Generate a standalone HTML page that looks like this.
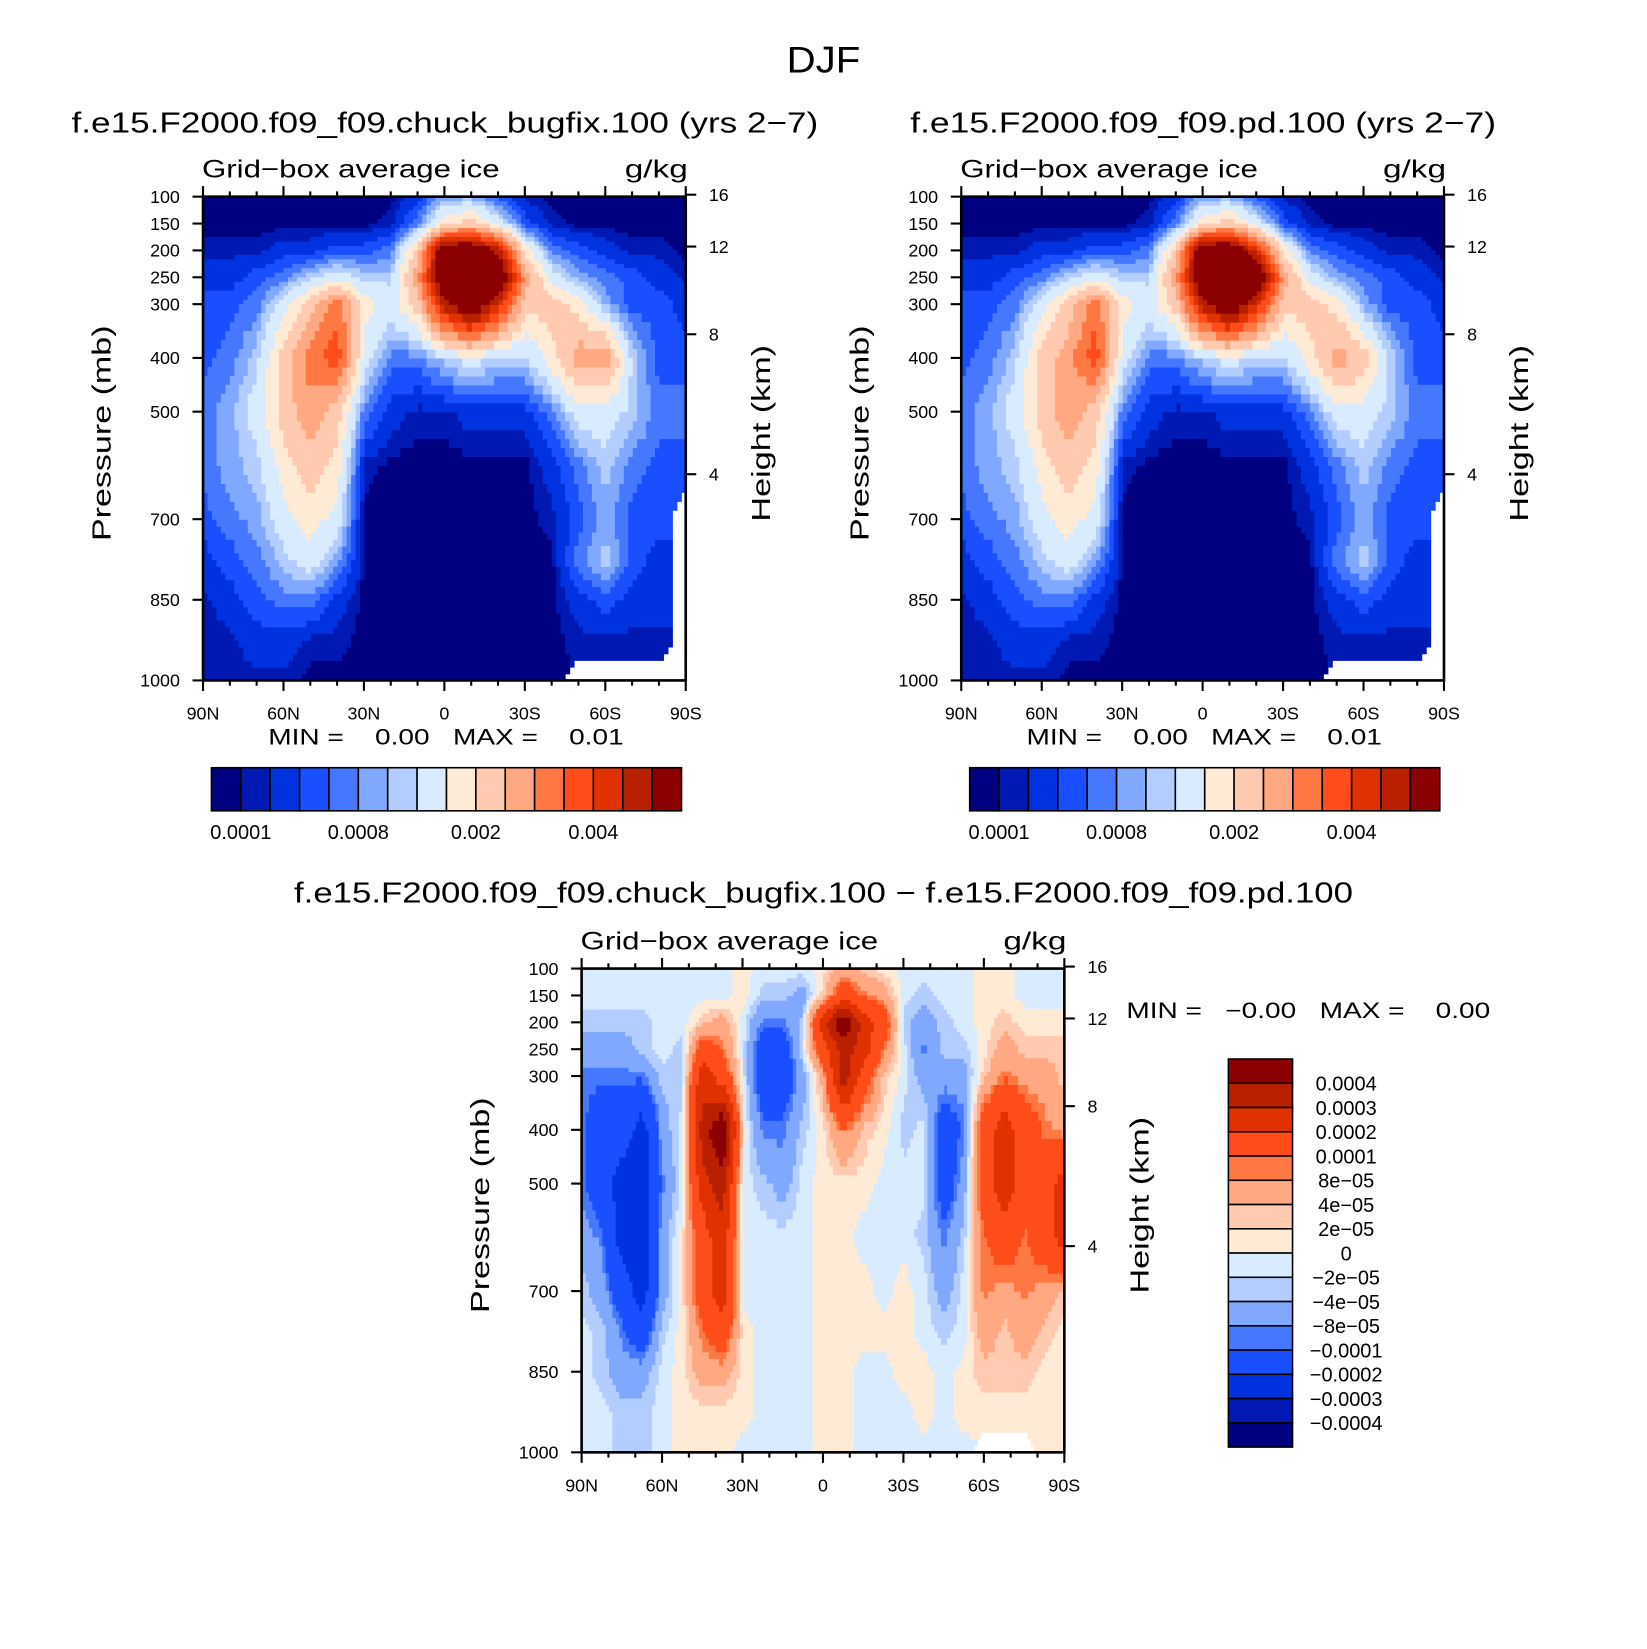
<!DOCTYPE html>
<html><head><meta charset="utf-8"><style>
html,body{margin:0;padding:0;background:#fff}
svg{display:block}
text{font-family:"Liberation Sans",sans-serif;fill:#000;white-space:pre}
</style></head><body>
<svg id="fig" width="1647" height="1649" viewBox="0 0 1566 1568" xmlns="http://www.w3.org/2000/svg">
<text x="783" y="69" font-size="35" text-anchor="middle" textLength="70" lengthAdjust="spacingAndGlyphs">DJF</text>
</svg>
<script>
// ---- data (values in units of 1e-4 g/kg) ----
const lats19 = [90,80,70,60,50,40,30,20,10,0,-10,-20,-30,-40,-50,-60,-70,-80,-90];
const lats25 = [90,82.5,75,67.5,60,52.5,45,37.5,30,22.5,15,7.5,0,-7.5,-15,-22.5,-30,-37.5,-45,-52.5,-60,-67.5,-75,-82.5,-90];
const pLevels = [100,150,200,250,300,400,500,600,700,775,850,925,1000];
const iceLevels = [1,2,4,6,8,10,12,16,20,25,30,35,40,45,50];
const iceLabels = ["0.0001","0.0008","0.002","0.004"];
const diffLevels = [-4,-3,-2,-1,-0.8,-0.4,-0.2,0,0.2,0.4,0.8,1,2,3,4];
const diffLabels = ["0.0004","0.0003","0.0002","0.0001","8e\u221205","4e\u221205","2e\u221205","0","\u22122e\u221205","\u22124e\u221205","\u22128e\u221205","\u22120.0001","\u22120.0002","\u22120.0003","\u22120.0004"];
const latTicks = [90,60,30,0,-30,-60,-90];
const latTickLabels = ["90N","60N","30N","0","30S","60S","90S"];
const pTicks = [100,150,200,250,300,400,500,700,850,1000];
const hTicks = [16,12,8,4];
const palette = ["#000080","#0019b3","#0032e0","#1a4fff","#4678ff","#80a8ff","#b3cdff","#d9ebff","#ffead6","#ffcab0","#ffa882","#ff7843","#ff4d1a","#e03200","#b82000","#8b0000"];

const iceA = [
[0.5,0.5,0.5,0.5,0.5,0.5,0.5,0.5,3,9,9,5,1.5,0.5,0.5,0.5,0.5,0.5,0.5],
[0.5,0.5,0.5,0.5,0.5,0.5,0.5,1.5,7,18,22,14,5,1.5,0.5,0.5,0.5,0.5,0.5],
[1.5,1.5,1.5,3,3,5,5,7,22,60,60,48,18,7,5,3,1.5,1.5,0.5],
[3,3,5,7,11,14,11,11,28,60,60,60,28,14,9,7,5,3,1.5],
[5,5,7,14,22,33,18,14,22,48,60,43,22,22,18,9,5,5,3],
[5,7,11,22,33,38,14,7,7,11,14,11,11,18,28,28,11,5,5],
[7,9,14,22,28,22,7,3,1.5,1.5,3,3,3,7,14,14,11,7,7],
[7,9,11,18,22,18,1.5,0.5,0.5,0.5,0.5,0.5,0.5,3,7,11,7,5,5],
[5,7,9,14,18,14,0.5,0.5,0.5,0.5,0.5,0.5,0.5,1.5,5,9,5,5,null],
[3,5,7,11,14,9,0.5,0.5,0.5,0.5,0.5,0.5,0.5,0.5,7,11,5,3,null],
[1.5,3,5,7,7,3,0.5,0.5,0.5,0.5,0.5,0.5,0.5,0.5,3,5,3,3,null],
[1.5,1.5,3,3,1.5,1.5,0.5,0.5,0.5,0.5,0.5,0.5,0.5,0.5,1.5,1.5,1.5,1.5,null],
[1.5,1.5,1.5,1.5,0.5,0.5,0.5,0.5,0.5,0.5,0.5,0.5,0.5,0.5,null,null,null,null,null]];

const iceB = [
[0.5,0.5,0.5,0.5,0.5,0.5,0.5,0.5,3,9,9,5,1.5,0.5,0.5,0.5,0.5,0.5,0.5],
[0.5,0.5,0.5,0.5,0.5,0.5,0.5,1.5,7,18,22,14,5,1.5,0.5,0.5,0.5,0.5,0.5],
[1.5,1.5,1.5,3,3,5,5,7,22,60,60,43,18,7,5,3,1.5,1.5,0.5],
[3,3,5,7,11,14,11,11,28,60,60,60,28,14,9,7,5,3,1.5],
[5,5,7,14,22,33,18,14,22,48,60,43,22,22,18,9,5,5,3],
[5,7,11,22,28,38,14,7,7,11,14,11,11,18,28,22,11,5,5],
[7,9,14,22,28,22,7,3,1.5,1.5,3,3,3,7,14,14,11,7,7],
[7,9,11,18,22,18,1.5,0.5,0.5,0.5,0.5,0.5,0.5,3,7,11,7,5,5],
[5,7,9,14,18,14,0.5,0.5,0.5,0.5,0.5,0.5,0.5,1.5,5,9,5,5,null],
[3,5,7,11,14,9,0.5,0.5,0.5,0.5,0.5,0.5,0.5,0.5,7,11,5,3,null],
[1.5,3,5,7,7,3,0.5,0.5,0.5,0.5,0.5,0.5,0.5,0.5,3,5,3,3,null],
[1.5,1.5,3,3,1.5,1.5,0.5,0.5,0.5,0.5,0.5,0.5,0.5,0.5,1.5,1.5,1.5,1.5,null],
[1.5,1.5,1.5,1.5,0.5,0.5,0.5,0.5,0.5,0.5,0.5,0.5,0.5,0.5,null,null,null,null,null]];

const diffAB = [
[-0.1,-0.1,-0.1,-0.1,-0.1,-0.1,-0.1,-0.1,0.1,-0.1,-0.1,-0.1,0.1,0.6,0.3,0.1,-0.1,-0.1,-0.1,-0.1,0.1,0.1,-0.1,-0.1,-0.1],
[-0.1,-0.1,-0.1,-0.1,-0.1,-0.1,-0.1,-0.1,0.1,-0.3,-0.3,-0.6,0.3,1.5,0.9,0.6,-0.1,-0.3,-0.1,-0.1,0.1,0.1,-0.1,-0.1,-0.1],
[-0.3,-0.3,-0.3,-0.3,-0.1,-0.1,0.3,0.6,-0.1,-0.9,-0.9,-0.3,2.5,5,2.5,1.5,-0.3,-0.6,-0.3,-0.1,0.1,0.3,0.1,0.1,0.1],
[-0.6,-0.6,-0.6,-0.3,-0.1,-0.3,1.5,0.9,-0.1,-1.5,-1.5,-0.1,1.5,3.5,2.5,0.9,-0.1,-0.9,-0.3,-0.3,0.1,0.6,0.3,0.3,0.3],
[-0.9,-0.9,-0.9,-0.9,-0.3,-0.3,2.5,1.5,-0.1,-1.5,-1.5,-0.6,0.6,3.5,1.5,0.3,-0.1,-0.6,-0.6,-0.6,0.3,0.9,0.6,0.6,0.3],
[-0.9,-1.5,-1.5,-2.5,-0.6,-0.1,3.5,5,0.1,-0.9,-0.9,-0.3,0.1,0.9,0.3,0.1,-0.3,-0.1,-1.5,-0.9,1.5,2.5,1.5,0.9,0.6],
[-0.9,-1.5,-2.5,-2.5,-0.9,-0.1,2.5,3.5,-0.1,-0.3,-0.6,-0.1,0.1,0.1,0.1,-0.1,-0.1,-0.1,-1.5,-0.6,1.5,2.5,1.5,1.5,2.5],
[-0.6,-0.9,-2.5,-2.5,-0.6,0.1,1.5,2.5,-0.1,-0.1,-0.1,-0.1,0.1,0.1,-0.1,-0.1,-0.1,-0.3,-0.9,-0.3,0.9,1.5,0.9,1.5,2.5],
[-0.3,-0.6,-1.5,-2.5,-0.6,0.1,1.5,2.5,-0.1,-0.1,-0.1,-0.1,0.1,0.1,0.1,-0.1,0.1,-0.1,-0.6,-0.1,0.9,0.6,0.9,0.6,0.3],
[-0.1,-0.3,-0.9,-1.5,-0.3,0.1,0.9,1.5,0.1,-0.1,-0.1,-0.1,0.1,0.1,0.1,0.1,0.1,-0.1,-0.3,-0.1,0.6,0.3,0.6,0.3,0.1],
[-0.1,-0.3,-0.6,-0.6,-0.1,0.1,0.6,0.6,0.1,-0.1,-0.1,-0.1,0.1,0.1,-0.1,-0.1,0.1,0.1,-0.1,0.1,0.3,0.3,0.3,0.1,0.1],
[-0.1,-0.1,-0.3,-0.3,-0.1,0.1,0.1,0.1,0.1,-0.1,-0.1,-0.1,0.1,0.1,-0.1,-0.1,-0.1,0.1,-0.1,0.1,0.1,0.1,0.1,0.1,0.1],
[-0.1,-0.1,-0.3,-0.3,-0.1,0.1,0.1,0.1,-0.1,-0.1,-0.1,-0.1,0.1,0.1,-0.1,-0.1,-0.1,-0.1,-0.1,-0.1,null,null,null,0.1,0.1]];

// ---- drawing ----
const NS = "http://www.w3.org/2000/svg";
const svg = document.getElementById("fig");
function mk(tag, attrs, parent, txt) {
  const e = document.createElementNS(NS, tag);
  for (const k in attrs) e.setAttribute(k, attrs[k]);
  if (txt !== undefined) e.textContent = txt;
  (parent || svg).appendChild(e);
  return e;
}
function classify(v, lv) { let c = 0; while (c < lv.length && v >= lv[c]) c++; return c; }
function hToP(h) { return 1013.25 * Math.pow(1 - 2.2558e-5 * h * 1000, 5.256); }

function panel(name, x0, y0, w, h, lats, data, lv) {
  const g = mk("g", {});
  
  
  const xS = lat => x0 + (90 - lat) / 180 * w;
  const yS = p => y0 + (p - 100) / 900 * h;
  const paths = palette.map(() => []);
  const N = 6;
  for (let k = 0; k < pLevels.length - 1; k++) {
    for (let i = 0; i < lats.length - 1; i++) {
      const a = data[k][i], b = data[k][i+1], c = data[k+1][i], d = data[k+1][i+1];
      const xa = xS(lats[i]), xb = xS(lats[i+1]), ya = yS(pLevels[k]), yb = yS(pLevels[k+1]);
      const sw = (xb - xa) / N, sh = (yb - ya) / N;
      for (let u = 0; u < N; u++) for (let v = 0; v < N; v++) {
        const fx = (u + 0.5) / N, fy = (v + 0.5) / N;
        const corners = [[a,(1-fx)*(1-fy)],[b,fx*(1-fy)],[c,(1-fx)*fy],[d,fx*fy]];
        let s = 0, ws = 0, missing = 0;
        for (const [cv, wt] of corners) { if (cv === null) missing += wt; else { s += cv*wt; ws += wt; } }
        if (missing > 0.5) continue;
        const val = s / ws;
        const ci = classify(val, lv);
        const px = xa + u*sw, py = ya + v*sh;
        paths[ci].push("M" + px.toFixed(1) + " " + py.toFixed(1) + "h" + (sw+0.6).toFixed(1) + "v" + (sh+0.6).toFixed(1) + "h" + (-(sw+0.6)).toFixed(1) + "z");
      }
    }
  }
  paths.forEach((p, ci) => {
    if (!p.length) return;
    const e = mk("path", {d: p.join(""), fill: palette[ci]}, g);
    
    
  });
  const fr = mk("rect", {x: x0, y: y0, width: w, height: h, fill: "none", stroke: "#000", "stroke-width": 2.5}, g);
  
  
  for (let lat = 90; lat >= -90; lat -= 10) {
    const x = xS(lat), major = lat % 30 === 0;
    const L = major ? 10 : 5;
    mk("line", {x1: x, y1: y0 + h, x2: x, y2: y0 + h + L, stroke: "#000", "stroke-width": 2}, g);
    mk("line", {x1: x, y1: y0, x2: x, y2: y0 - L, stroke: "#000", "stroke-width": 2}, g);
  }
  latTicks.forEach((lat, i) => {
    const t = mk("text", {x: xS(lat), y: y0 + h + 37, "font-size": 17, "text-anchor": "middle"}, g, latTickLabels[i]);
    
    
  });
  pTicks.forEach(p => {
    const y = yS(p);
    mk("line", {x1: x0, y1: y, x2: x0 - 10, y2: y, stroke: "#000", "stroke-width": 2}, g);
    const t = mk("text", {x: x0 - 22, y: y + 6, "font-size": 17, "text-anchor": "end"}, g, String(p));
    
    
  });
  hTicks.forEach(hk => {
    const y = yS(hToP(hk));
    mk("line", {x1: x0 + w, y1: y, x2: x0 + w + 10, y2: y, stroke: "#000", "stroke-width": 2}, g);
    const t = mk("text", {x: x0 + w + 22, y: y + 6, "font-size": 17}, g, String(hk));
    
    
  });
  const t1 = mk("text", {x: x0 - 1, y: y0 - 18, "font-size": 24, textLength: 283, lengthAdjust: "spacingAndGlyphs"}, g, "Grid\u2212box average ice");
  
  
  const t2 = mk("text", {x: x0 + w + 2, y: y0 - 18, "font-size": 24, "text-anchor": "end", textLength: 60, lengthAdjust: "spacingAndGlyphs"}, g, "g/kg");
  
  
  const cy = y0 + h / 2 - 5;
  const t3 = mk("text", {x: 0, y: 0, "font-size": 25, "text-anchor": "middle", textLength: 205, lengthAdjust: "spacingAndGlyphs", transform: "translate(" + (x0 - 88) + "," + cy + ") rotate(-90)"}, g, "Pressure (mb)");
  
  
  const t4 = mk("text", {x: 0, y: 0, "font-size": 25, "text-anchor": "middle", textLength: 168, lengthAdjust: "spacingAndGlyphs", transform: "translate(" + (x0 + w + 80) + "," + cy + ") rotate(-90)"}, g, "Height (km)");
  
  
}

function hBar(name, x0, y0, w, h) {
  const g = mk("g", {});
  
  
  const bw = w / palette.length;
  palette.forEach((c, i) => {
    const r = mk("rect", {x: x0 + i*bw, y: y0, width: bw, height: h, fill: c, stroke: "#000", "stroke-width": 1.5}, g);
    
    
  });
  iceLabels.forEach((lab, i) => {
    const t = mk("text", {x: x0 + (1 + 4*i)*bw, y: y0 + h + 27, "font-size": 19, "text-anchor": "middle"}, g, lab);
    
    
  });
}

function addText(name, x, y, size, anchor, s, len) {
  const t = mk("text", {x: x, y: y, "font-size": size, "text-anchor": anchor}, svg, s);
  if (len) { t.setAttribute("textLength", len); t.setAttribute("lengthAdjust", "spacingAndGlyphs"); }
  
  
}

addText('left-panel-title', 423, 126, 27, 'middle', 'f.e15.F2000.f09_f09.chuck_bugfix.100 (yrs 2\u22127)', 710);
panel('left-contour-plot', 193, 187, 459, 460, lats19, iceA, iceLevels);
addText('left-min-max', 424, 708, 21, 'middle', 'MIN =    0.00   MAX =    0.01', 338);
hBar('left-colorbar', 201, 730, 447, 41);

addText('right-panel-title', 1144, 126, 27, 'middle', 'f.e15.F2000.f09_f09.pd.100 (yrs 2\u22127)', 557);
panel('right-contour-plot', 914, 187, 459, 460, lats19, iceB, iceLevels);
addText('right-min-max', 1145, 708, 21, 'middle', 'MIN =    0.00   MAX =    0.01', 338);
hBar('right-colorbar', 922, 730, 447, 41);

addText('diff-panel-title', 783, 858, 27, 'middle', 'f.e15.F2000.f09_f09.chuck_bugfix.100 \u2212 f.e15.F2000.f09_f09.pd.100', 1007);
panel('diff-contour-plot', 553, 921, 459, 460, lats25, diffAB, diffLevels);
addText('diff-min-max', 1071, 968, 21, 'start', 'MIN =   \u22120.00   MAX =    0.00', 346);
(function(){
  const g = mk("g", {});
  
  
  const x0 = 1168, y0 = 1007, w = 61, h = 369, bh = h / palette.length;
  palette.slice().reverse().forEach((c, i) => {
    const r = mk("rect", {x: x0, y: y0 + i*bh, width: w, height: bh, fill: c, stroke: "#000", "stroke-width": 1.5}, g);
    
    
  });
  diffLabels.forEach((lab, i) => {
    const t = mk("text", {x: 1280, y: y0 + (i+1)*bh + 7, "font-size": 19, "text-anchor": "middle"}, g, lab);
    
    
  });
})();
</script>
</body></html>
